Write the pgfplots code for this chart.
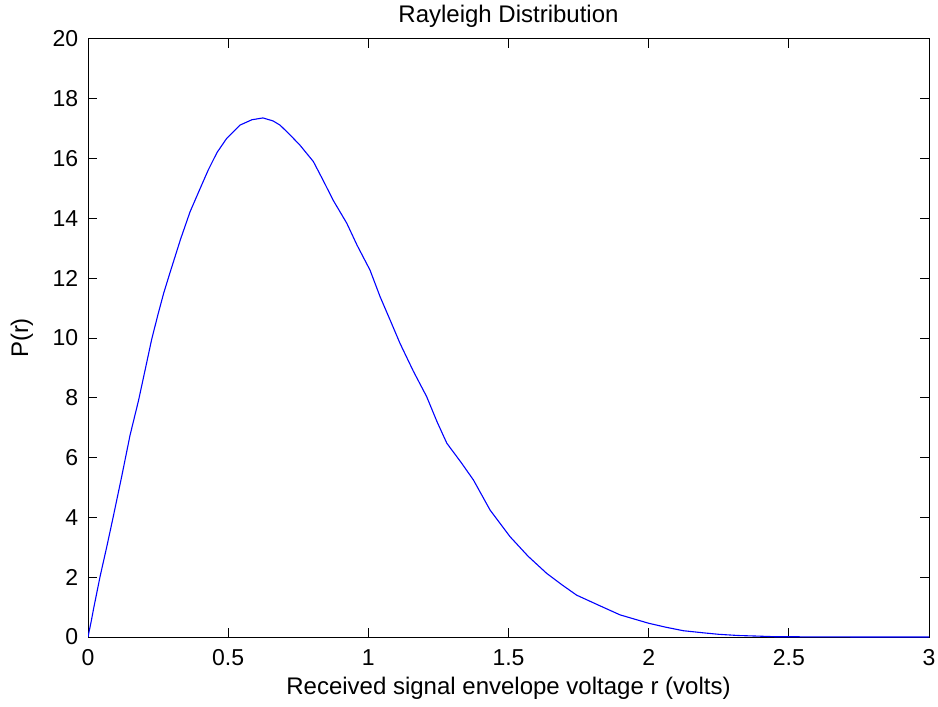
\documentclass[border=0pt]{standalone}
\usepackage{pgfplots}
\pgfplotsset{compat=1.18}
\usepackage{fontspec}
\setmainfont{Liberation Sans}
\begin{document}
\begin{tikzpicture}
\begin{axis}[
  scale only axis,
  width=420.5pt, height=299pt,
  xmin=0, xmax=3, ymin=0, ymax=20,
  xtick={0,0.5,1,1.5,2,2.5,3},
  ytick={0,2,4,6,8,10,12,14,16,18,20},
  xticklabels={0,0.5,1,1.5,2,2.5,3},
  tick align=inside,
  major tick length=4.5pt,
  tick style={black, line width=0.5pt},
  axis line style={black, line width=0.5pt},
  /pgf/number format/assume math mode=true,
  tick label style={font=\fontsize{11.5}{13}\selectfont},
  xticklabel style={anchor=base, yshift=-14pt, inner sep=0pt},
  yticklabel style={anchor=east, xshift=-4.7pt, inner sep=0pt},
  title={Rayleigh Distribution},
  title style={font=\fontsize{12}{14}\selectfont, at={(0.5,1)}, anchor=base, yshift=2.25pt, inner sep=0pt},
  xlabel={Received signal envelope voltage r (volts)},
  xlabel style={font=\fontsize{12}{14}\selectfont, at={(0.5,0)}, anchor=base, yshift=-28.5pt, inner sep=0pt},
  ylabel={P(r)},
  ylabel style={font=\fontsize{12}{14}\selectfont, at={(0,0.5)}, anchor=center, yshift=33pt, inner sep=0pt},
]
\addplot[color={rgb,255:red,0;green,0;blue,255}, line width=0.55pt] coordinates {
(0,0) (0.012,0.55) (0.02,0.95) (0.043,2.02) (0.067,3.02) (0.09,4.02)
(0.12,5.36) (0.15,6.75) (0.18,7.9) (0.203,8.9) (0.227,9.95) (0.25,10.8)
(0.27,11.5) (0.293,12.2) (0.33,13.3) (0.364,14.22) (0.4,15.0) (0.429,15.62) (0.46,16.2)
(0.495,16.68) (0.542,17.12) (0.585,17.3) (0.624,17.36) (0.66,17.26)
(0.685,17.12) (0.72,16.8) (0.756,16.45) (0.804,15.9) (0.84,15.25)
(0.875,14.6) (0.923,13.84) (0.96,13.1) (1.006,12.27) (1.042,11.38)
(1.08,10.55) (1.113,9.82) (1.16,8.9) (1.208,8.04) (1.245,7.2) (1.28,6.48)
(1.33,5.85) (1.375,5.25) (1.434,4.25) (1.506,3.35) (1.57,2.7)
(1.636,2.13) (1.69,1.75) (1.743,1.40) (1.827,1.04) (1.898,0.74) (2.0,0.46)
(2.06,0.33) (2.124,0.21) (2.195,0.14) (2.25,0.09) (2.32,0.05) (2.39,0.03)
(2.45,0.01) (2.6,0.005) (2.8,0.0) (3,0)
};
\end{axis}
\path (current axis.south west)+(-44pt,-34.5pt) rectangle ([xshift=4.5pt,yshift=19.5pt]current axis.north east);
\end{tikzpicture}
\end{document}
